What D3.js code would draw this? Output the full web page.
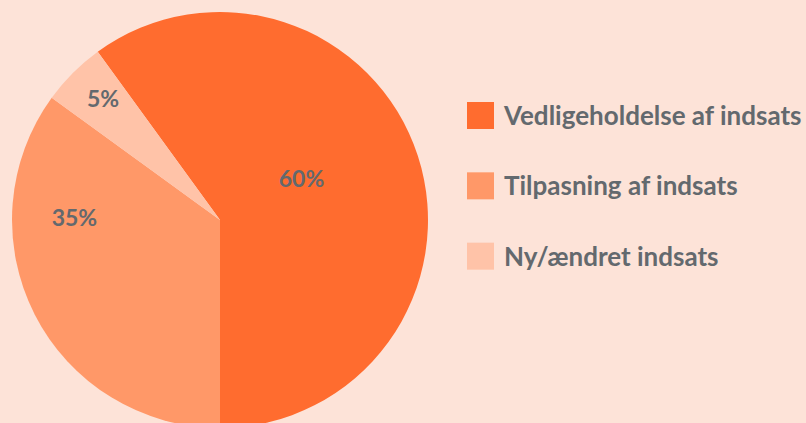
<!DOCTYPE html>
<html>
<head>
<meta charset="utf-8">
<script src="https://cdnjs.cloudflare.com/ajax/libs/d3/7.8.5/d3.min.js"></script>
<style>
  html, body { margin: 0; padding: 0; background: #fde3d8; }
  svg { display: block; }
  text { font-family: "Lato", "Open Sans", sans-serif; font-weight: bold; fill: #63696e; }
</style>
</head>
<body>
<svg></svg>
<script>
// Data
var categories = ["Vedligeholdelse af indsats", "Tilpasning af indsats", "Ny/ændret indsats"];
var values = [60, 35, 5];
var labels = ["60%", "35%", "5%"];

var w = 806;
var h = 423;
var cx = 220, cy = 220;
var radius = 208;

var svg = d3.select("svg")
    .attr("width", w)
    .attr("height", h);

var color = d3.scaleOrdinal()
    .domain(categories)
    .range(["#ff6c2f", "#ff9868", "#ffc3a8"]);

var data = categories.map(function (c, i) {
    return { name: c, value: values[i], label: labels[i] };
});

// first slice begins at -36deg and runs clockwise
var start = -36 * Math.PI / 180;
var pie = d3.pie()
    .value(d => d.value)
    .sort(null)
    .startAngle(start)
    .endAngle(start + 2 * Math.PI);

var arc = d3.arc()
    .innerRadius(0)
    .outerRadius(radius);

var g = svg.append("g")
    .attr("transform", "translate(" + cx + "," + cy + ")");

var arcs = pie(data);

g.selectAll("path")
    .data(arcs)
    .enter().append("path")
    .attr("d", arc)
    .attr("fill", d => color(d.data.name));

// label placement: shift from mid angle (deg) and distance as share of radius
var labelShift = [-9, 28, 1];
var labelDist = [0.44, 0.70, 0.81];

function labelPos(d, i) {
    var a = (d.startAngle + d.endAngle) / 2 + labelShift[i] * Math.PI / 180;
    var r = radius * labelDist[i];
    return [Math.sin(a) * r, -Math.cos(a) * r];
}

g.selectAll(".lbl")
    .data(arcs)
    .enter().append("text")
    .attr("class", "lbl")
    .attr("text-anchor", "middle")
    .attr("dy", "0.35em")
    .style("font-size", "23px")
    .attr("x", (d, i) => labelPos(d, i)[0])
    .attr("y", (d, i) => labelPos(d, i)[1])
    .text(d => d.data.label);

// Legend
var legend = svg.append("g")
    .attr("transform", "translate(467,102)");

var row = d3.scaleBand()
    .domain(categories)
    .range([0, 211]);

legend.selectAll("rect")
    .data(categories)
    .enter().append("rect")
    .attr("x", 0)
    .attr("y", d => row(d))
    .attr("width", 27)
    .attr("height", 27)
    .attr("fill", d => color(d));

legend.selectAll("text")
    .data(categories)
    .enter().append("text")
    .attr("x", 37)
    .attr("y", d => row(d) + 23)
    .style("font-size", "26px")
    .text(d => d);
</script>
</body>
</html>
